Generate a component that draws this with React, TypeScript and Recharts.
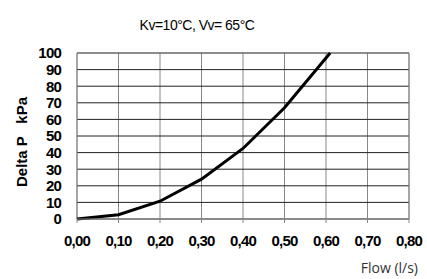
import React from "react";
import {
  LineChart,
  Line,
  XAxis,
  YAxis,
  CartesianGrid,
  ReferenceArea,
  Label,
} from "recharts";

const flow = [0, 0.1, 0.2, 0.3, 0.4, 0.5, 0.61];
const deltaP = [0, 2.6, 10.7, 24, 42.5, 67, 100];
const xTicks = [0, 0.1, 0.2, 0.3, 0.4, 0.5, 0.6, 0.7, 0.8];
const yTicks = [0, 10, 20, 30, 40, 50, 60, 70, 80, 90, 100];

const data = flow.map((f, i) => ({ flow: f, dp: deltaP[i] }));

const tickFont = {
  fill: "#000",
  fontSize: 15,
  fontWeight: "bold" as const,
  letterSpacing: -0.8,
  fontFamily: "'Liberation Sans', Arial, sans-serif",
};

export default function App() {
  return (
    <div style={{ position: "absolute", left: 0, top: 0, width: 427, height: 279, background: "#fff" }}>
      <LineChart
        width={427}
        height={279}
        data={data}
        margin={{ top: 53, right: 18, bottom: 0, left: 0 }}
      >
        <text
          x={197}
          y={30}
          textAnchor="middle"
          fontSize={14}
          letterSpacing={-0.5}
          fontFamily="'Liberation Sans', Arial, sans-serif"
          fill="#000"
        >
          Kv=10°C, Vv= 65°C
        </text>
        <CartesianGrid horizontal={false} stroke="#888" strokeWidth={1} />
        <CartesianGrid vertical={false} stroke="#222" strokeWidth={1} />
        <ReferenceArea x1={0} x2={0.8} y1={0} y2={100} fill="none" stroke="#888" strokeWidth={1} />
        <XAxis
          dataKey="flow"
          type="number"
          domain={[0, 0.8]}
          ticks={xTicks}
          interval={0}
          height={60}
          tickFormatter={(v: number) => v.toFixed(2).replace(".", ",")}
          tick={tickFont}
          tickLine={{ stroke: "#888" }}
          tickSize={4}
          tickMargin={12}
          axisLine={{ stroke: "#888" }}
        >
          <Label
            value="Flow (l/s)"
            position="insideBottomRight"
            offset={0}
            dx={9}
            dy={-6}
            style={{ fontSize: 14, fill: "#333", fontFamily: "'Open Sans', sans-serif" }}
          />
        </XAxis>
        <YAxis
          type="number"
          domain={[0, 100]}
          ticks={yTicks}
          interval={0}
          width={77}
          tick={tickFont}
          tickLine={false}
          tickMargin={10}
          axisLine={false}
        >
          <Label
            value={"Delta P\u00a0\u00a0\u00a0kPa"}
            angle={-90}
            position="insideLeft"
            offset={22}
            dy={6}
            style={{
              fontSize: 15,
              fontWeight: "bold",
              fill: "#000",
              textAnchor: "middle",
              fontFamily: "'Liberation Sans', Arial, sans-serif",
            }}
          />
        </YAxis>
        <Line
          type="linear"
          dataKey="dp"
          stroke="#000"
          strokeWidth={3}
          dot={false}
          isAnimationActive={false}
        />
      </LineChart>
    </div>
  );
}
